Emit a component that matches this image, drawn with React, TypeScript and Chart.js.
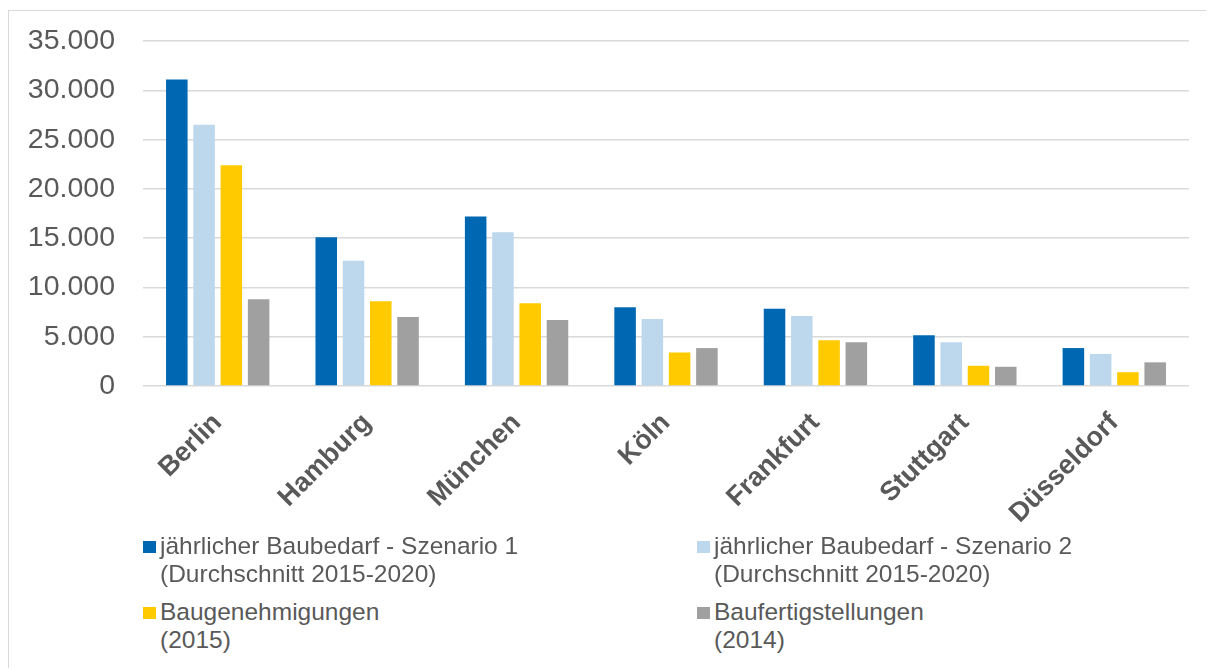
import React, { useEffect, useRef } from "react";
import { Chart, registerables } from "chart.js";

Chart.register(...registerables);

const categories = ["Berlin", "Hamburg", "München", "Köln", "Frankfurt", "Stuttgart", "Düsseldorf"];
const szenario1 = [31100, 15100, 17200, 8000, 7850, 5150, 3850];
const szenario2 = [26500, 12700, 15600, 6800, 7100, 4450, 3250];
const baugenehmigungen = [22400, 8600, 8400, 3400, 4650, 2050, 1400];
const baufertigstellungen = [8800, 7000, 6700, 3850, 4450, 1950, 2400];
const yTicks = [0, 5000, 10000, 15000, 20000, 25000, 30000, 35000];

const seriesLabels = [
  ["jährlicher Baubedarf - Szenario 1", "(Durchschnitt 2015-2020)"],
  ["jährlicher Baubedarf - Szenario 2", "(Durchschnitt 2015-2020)"],
  ["Baugenehmigungen", "(2015)"],
  ["Baufertigstellungen", "(2014)"],
];
const colors = ["#0068b3", "#bdd8ec", "#ffcb00", "#a0a0a0"];

const TEXT = "#595959";
const FONT = "'Liberation Sans', Arial, sans-serif";

function fmt(v: number): string {
  return String(Math.round(v)).replace(/\B(?=(\d{3})+(?!\d))/g, ".");
}

export default function App() {
  const ref = useRef<HTMLCanvasElement | null>(null);

  useEffect(() => {
    if (!ref.current) return;
    const values = [szenario1, szenario2, baugenehmigungen, baufertigstellungen];
    const chart = new Chart(ref.current, {
      type: "bar",
      data: {
        labels: categories,
        datasets: values.map((d, i) => ({
          label: seriesLabels[i].join(" "),
          data: d,
          backgroundColor: colors[i],
          borderWidth: 0,
          categoryPercentage: 0.73,
          barPercentage: 0.79,
        })),
      },
      options: {
        responsive: false,
        animation: false,
        layout: { padding: { top: 20, right: 19, left: 0, bottom: 0 } },
        plugins: {
          legend: { display: false },
          tooltip: { enabled: false },
          title: { display: false },
        },
        scales: {
          x: {
            grid: { display: false },
            border: { display: false },
            ticks: {
              color: TEXT,
              font: { family: FONT, size: 27, weight: "bold" },
              minRotation: 45,
              maxRotation: 45,
              autoSkip: false,
              padding: 13,
            },
            afterFit: (s: any) => {
              s.height = 152;
            },
          },
          y: {
            min: 0,
            max: 35000,
            afterBuildTicks: (s: any) => {
              s.ticks = yTicks.map((v) => ({ value: v }));
            },
            grid: { color: "#d9d9d9", lineWidth: 1.5, drawTicks: false },
            border: { display: false },
            ticks: {
              color: TEXT,
              font: { family: FONT, size: 28.5 },
              padding: 28,
              callback: (v: any) => fmt(Number(v)),
            },
            afterFit: (s: any) => {
              s.width = 135;
            },
          },
        },
      },
    });
    return () => chart.destroy();
  }, []);

  const legendPos = [
    { x: 135, y: 524 },
    { x: 689, y: 524 },
    { x: 135, y: 590 },
    { x: 689, y: 590 },
  ];

  return (
    <div style={{ position: "relative", width: 1206, height: 660, overflow: "hidden" }}>
      <div
        style={{
          position: "absolute",
          left: 0,
          top: 2,
          width: 1206,
          height: 680,
          borderLeft: "1.5px solid #d9d9d9",
          borderTop: "1.5px solid #d9d9d9",
          boxSizing: "border-box",
        }}
      />
      <canvas ref={ref} width={1200} height={542} style={{ position: "absolute", left: 0, top: -12, width: 1200, height: 542 }} />
      {seriesLabels.map((lines, i) => (
        <div
          key={i}
          style={{
            position: "absolute",
            left: legendPos[i].x,
            top: legendPos[i].y,
            fontFamily: FONT,
            fontSize: 24.5,
            lineHeight: "28px",
            color: TEXT,
            whiteSpace: "nowrap",
          }}
        >
          <span
            style={{
              position: "absolute",
              left: 0,
              top: 9,
              width: 13,
              height: 12,
              background: colors[i],
            }}
          />
          <div style={{ marginLeft: 17 }}>
            {lines.map((l, j) => (
              <div key={j}>{l}</div>
            ))}
          </div>
        </div>
      ))}
    </div>
  );
}
